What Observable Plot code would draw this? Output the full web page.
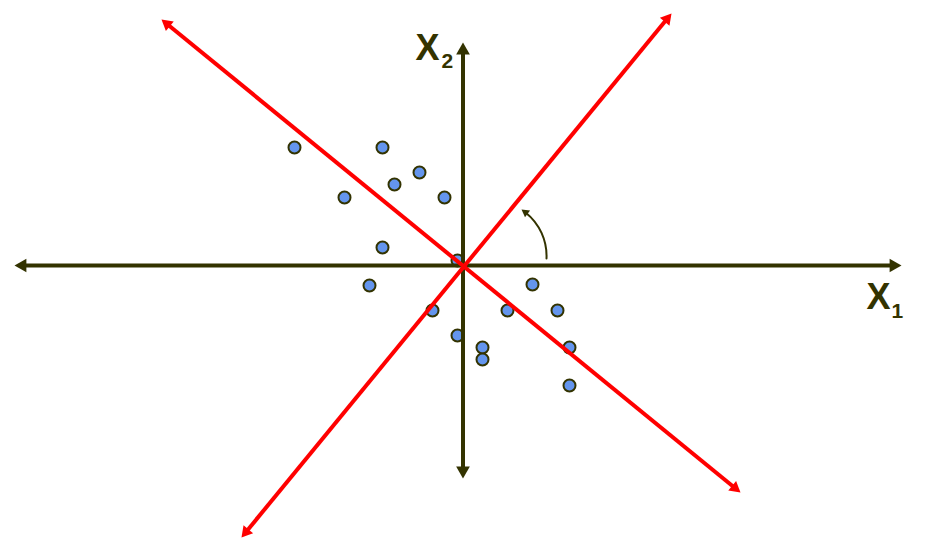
<!DOCTYPE html>
<html><head><meta charset="utf-8">
<script src="https://cdn.jsdelivr.net/npm/d3@7"></script>
<script src="https://cdn.jsdelivr.net/npm/@observablehq/plot@0.6"></script>
<style>body{margin:0;background:#fff}</style>
</head><body><div id="chart"></div>
<script>
const axisColor = "#333300";
const lineColor = "#ff0000";
const pointFill = "#6495ed";

// original axes: tip positions
const x1AxisTips = [-448, 439];   // along x2 = 0
const x2AxisTips = [-213, 223];   // along x1 = 0
// rotated axes: [xA, yA, xB, yB] tips
const redAxisA = [-301, 246, 278, -227];
const redAxisB = [-221, -272, 209, 252];

// data points
const pointsX1 = [-168, -80, -43, -68, -118, -18, -80, -5, -93, 70, -30, 45, 95, -5, 20, 20, 107, 107];
const pointsX2 = [118, 118, 93, 81, 68, 68, 18, 5, -20, -19, -45, -45, -45, -70, -82, -94, -82, -120];

// rotation arrow: start x, start y, tip x, tip y
const rotationArc = [84, 7, 59, 56];
const rotationBendDeg = 27;

// axis labels
const labelText = ["X", "2", "X", "1"];
const labelX = [-47, -21, 404, 429];
const labelY = [206, 198, -43, -52];
const labelSize = [36, 21, 36, 21];

const triK = 2 * Math.sqrt(Math.PI / (3 * Math.sqrt(3))); // tip offset per unit r for d3 triangle
function head(tx, ty, ux, uy, r) {
  const off = triK * r;
  return {x: tx - ux * off, y: ty - uy * off, rotate: Math.atan2(ux, uy) * 180 / Math.PI};
}
function doubleArrow(ax, ay, bx, by, r) {
  const L = Math.hypot(bx - ax, by - ay);
  const ux = (bx - ax) / L, uy = (by - ay) / L;
  const hb = head(bx, by, ux, uy, r), ha = head(ax, ay, -ux, -uy, r);
  return {seg: {x1: ha.x, y1: ha.y, x2: hb.x, y2: hb.y}, heads: [ha, hb]};
}

const axisR = 5.1, redR = 4.6, smallR = 3.2;
const axH = doubleArrow(x1AxisTips[0], 0, x1AxisTips[1], 0, axisR);
const axV = doubleArrow(0.5, x2AxisTips[0], 0.5, x2AxisTips[1], axisR);
const rA = doubleArrow(...redAxisA, redR);
const rB = doubleArrow(...redAxisB, redR);

// curved rotation arrow
const [sx, sy, tx, ty] = rotationArc;
const chordAng = Math.atan2(ty - sy, tx - sx) + rotationBendDeg * Math.PI / 180;
const endU = [Math.cos(chordAng), Math.sin(chordAng)];
const rotHead = head(tx, ty, endU[0], endU[1], smallR);

const points = pointsX1.map((x, i) => ({x, y: pointsX2[i]}));
const labels = labelText.map((t, i) => ({t, x: labelX[i], y: labelY[i], s: labelSize[i]}));
const font = "Liberation Sans, Arial, Helvetica, sans-serif";

const chart = Plot.plot({
  width: 938, height: 552,
  margin: 0,
  x: {domain: [-462, 476], axis: null},
  y: {domain: [-287, 265], axis: null},
  marks: [
    Plot.dot(points, {x: "x", y: "y", r: 6, fill: pointFill, stroke: axisColor, strokeWidth: 2}),
    Plot.link([axH.seg, axV.seg], {x1: "x1", y1: "y1", x2: "x2", y2: "y2", stroke: axisColor, strokeWidth: 4}),
    Plot.dot([...axH.heads, ...axV.heads], {x: "x", y: "y", rotate: "rotate", symbol: "triangle", r: axisR, fill: axisColor, stroke: "none"}),
    Plot.link([rA.seg, rB.seg], {x1: "x1", y1: "y1", x2: "x2", y2: "y2", stroke: lineColor, strokeWidth: 4}),
    Plot.dot([...rA.heads, ...rB.heads], {x: "x", y: "y", rotate: "rotate", symbol: "triangle", r: redR, fill: lineColor, stroke: "none"}),
    Plot.arrow([{x1: sx, y1: sy, x2: rotHead.x, y2: rotHead.y}], {x1: "x1", y1: "y1", x2: "x2", y2: "y2", bend: -rotationBendDeg, headLength: 0, stroke: axisColor, strokeWidth: 2}),
    Plot.dot([rotHead], {x: "x", y: "y", rotate: "rotate", symbol: "triangle", r: smallR, fill: axisColor, stroke: "none"}),
    ...labels.map(d => Plot.text([d], {x: "x", y: "y", text: "t", fontSize: d.s, fontWeight: "bold", fontFamily: font, textAnchor: "start", lineAnchor: "bottom", fill: axisColor}))
  ]
});
document.getElementById("chart").append(chart);
</script>
</body></html>
